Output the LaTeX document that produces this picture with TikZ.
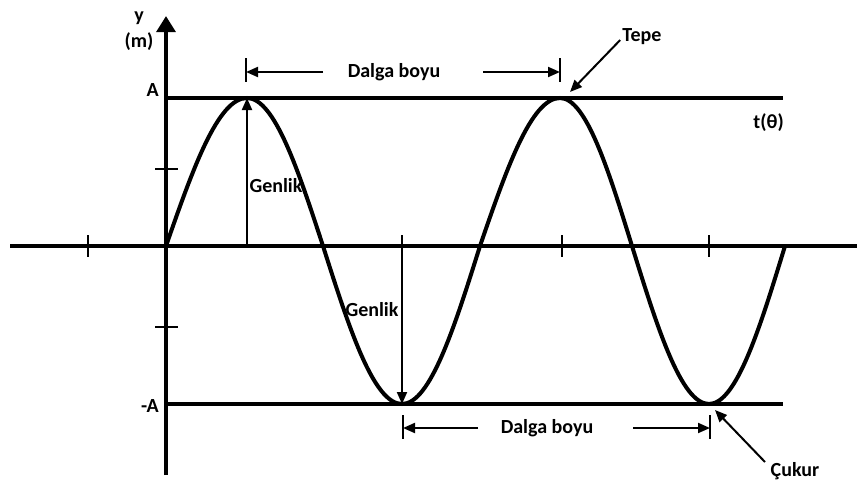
\documentclass[tikz,border=0pt]{standalone}
\usepackage{fontspec}
\setmainfont{Carlito}
\usetikzlibrary{arrows.meta}
\begin{document}
\begin{tikzpicture}[x=0.75pt,y=-0.75pt,
  thickline/.style={line width=3pt},
  thinline/.style={line width=1.5pt},
  dimarrow/.style={thinline,-{Triangle[length=9pt,width=7.5pt]}},
  lbl/.style={font=\bfseries\fontsize{15}{19}\selectfont,inner sep=0pt}]
\useasboundingbox (0,0) rectangle (857,482);
\coordinate (o) at (166,246);
\coordinate (peak1) at (247,98);
\coordinate (zero1) at (323,246);
\coordinate (trough1) at (402,404);
\coordinate (zero2) at (480,246);
\coordinate (peak2) at (560,98);
\coordinate (zero3) at (632,246);
\coordinate (trough2) at (709,404);
\coordinate (zero4) at (785,246);
\draw[thickline] (10,246) -- (857,246);
\draw[thickline,-{Triangle[length=12pt,width=14pt]}] (166,475) -- (166,16);
\draw[thickline] (o |- peak1) -- (783,98);
\draw[thickline] (o |- trough1) -- (783,404);
\foreach \x in {88,562,709} \draw[thinline] (\x,235) -- (\x,257);
\foreach \y in {169,327} \draw[thinline] (155,\y) -- (178,\y);
\draw[thickline] (o) sin (peak1) cos (zero1) sin (trough1) cos (zero2)
                 sin (peak2) cos (zero3) sin (trough2) cos (zero4);
\node[lbl,align=center] (ylab) at (139,31) {y\\(m)};
\node[lbl,anchor=east] (Alab) at (159,90) {A};
\node[lbl,anchor=east] (mAlab) at (159,406) {-A};
\node[lbl,anchor=east] (tlab) at (784,123) {t(θ)};
\node[lbl] (amp1) at (276,186) {Genlik};
\node[lbl] (amp2) at (372,310) {Genlik};
\draw[dimarrow] (247,246) -- (peak1);
\draw[dimarrow] (402,235) -- (trough1);
\node[lbl] (wave1) at (394,72) {Dalga boyu};
\draw[thinline] (246,58) -- (246,82);
\draw[thinline] (560,58) -- (560,82);
\draw[dimarrow] (323,72) -- (246,72);
\draw[dimarrow] (483,72) -- (560,72);
\node[lbl] (wave2) at (547,428) {Dalga boyu};
\draw[thinline] (403,415) -- (403,439);
\draw[thinline] (710,415) -- (710,439);
\draw[dimarrow] (478,428) -- (403,428);
\draw[dimarrow] (633,428) -- (710,428);
\node[lbl] (crest) at (642,37) {Tepe};
\draw[dimarrow] (crest.west) ++(-2,3) -- (570,92);
\node[lbl] (trough) at (795,471) {Çukur};
\draw[dimarrow] (765,462) -- (715,410);
\end{tikzpicture}
\end{document}
